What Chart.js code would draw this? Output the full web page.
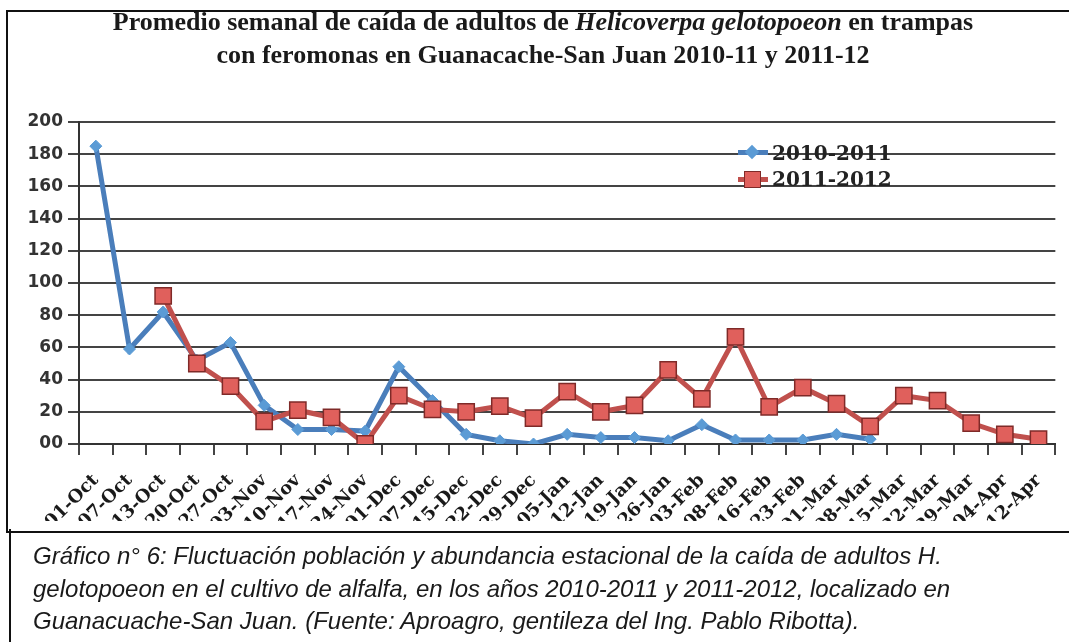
<!DOCTYPE html>
<html>
<head>
<meta charset="utf-8">
<script src="https://cdn.jsdelivr.net/npm/chart.js@4.4.1/dist/chart.umd.min.js"></script>
<style>
  html, body { margin:0; padding:0; background:#fff; }
  #stage { position:relative; width:1069px; height:642px; overflow:hidden; background:#fff; }
  #chartWrap { position:absolute; left:0; top:0; width:1069px; height:521px; overflow:hidden; }
  #frame { position:absolute; left:6px; top:10px; width:1100px; height:519px; border:2px solid #111; pointer-events:none; }
  #capFrame { position:absolute; left:9px; top:529px; width:1100px; height:140px; border-left:2px solid #111; pointer-events:none; }
  #title { position:absolute; left:0; width:1086px; top:5px; text-align:center; font-family:"Liberation Serif", serif; font-weight:bold; font-size:26px; line-height:33px; color:#1a1a1a; }
  #caption { position:absolute; left:33px; top:540px; font-family:"Liberation Sans", Arial, sans-serif; font-style:italic; font-size:24px; line-height:32.5px; color:#1a1a1a; white-space:nowrap; }
  .lg { position:absolute; font-family:"DejaVu Serif", serif; font-weight:bold; font-size:20px; color:#222; line-height:22px; }
  .lgline { position:absolute; height:5px; }
</style>
</head>
<body>
<div id="stage">
  <div id="chartWrap"><canvas id="c" width="1069" height="521"></canvas></div>
  <div id="frame"></div>
  <div id="capFrame"></div>
  <div id="title">Promedio semanal de caída de adultos de <i>Helicoverpa gelotopoeon</i> en trampas<br>con feromonas en Guanacache-San Juan 2010-11 y 2011-12</div>
  <div class="lgline" style="left:738px; top:150px; width:30px; background:#4a7ebb;"></div>
  <div style="position:absolute; left:746px; top:146px; width:12px; height:12px; background:#5b9bd5; transform:rotate(45deg) scale(0.85);"></div>
  <div class="lg" style="left:772px; top:142px;">2010-2011</div>
  <div class="lgline" style="left:738px; top:177px; width:30px; background:#c0504d;"></div>
  <div style="position:absolute; left:744px; top:171px; width:15px; height:15px; background:#e0605c; border:1px solid #7f2a28;"></div>
  <div class="lg" style="left:772px; top:168px;">2011-2012</div>
  <div id="caption">Gráfico n° 6: Fluctuación población y abundancia estacional de la caída de adultos H.<br>gelotopoeon en el cultivo de alfalfa, en los años 2010-2011 y 2011-2012, localizado en<br>Guanacuache-San Juan. (Fuente: Aproagro, gentileza del Ing. Pablo Ribotta).</div>
</div>
<script>
const categories = ["01-Oct","07-Oct","13-Oct","20-Oct","27-Oct","03-Nov","10-Nov","17-Nov","24-Nov","01-Dec","07-Dec","15-Dec","22-Dec","29-Dec","05-Jan","12-Jan","19-Jan","26-Jan","03-Feb","08-Feb","16-Feb","23-Feb","01-Mar","08-Mar","15-Mar","22-Mar","29-Mar","04-Apr","12-Apr"];
const season2010 = [185,59,82,52,63,24,9,9,8,48,27,6,2,0,6,4,4,2,12,2.5,2.5,2.5,6,3,null,null,null,null,null];
const season2011 = [null,null,92,50,36,14,21,16.5,0,30,21.5,20,23.5,16,32.5,20,24,46,28,66.5,23,35,25,11,30,27,13,6,3];
const yTicks = [0,20,40,60,80,100,120,140,160,180,200];
const seriesNames = ["2010-2011","2011-2012"];

new Chart(document.getElementById('c'), {
  type: 'line',
  data: {
    labels: categories,
    datasets: [
      { label: seriesNames[0], data: season2010, borderColor:'#4a7ebb', borderWidth:5, backgroundColor:'#5b9bd5',
        pointStyle:'rectRot', pointRadius:6, pointBorderColor:'#5b9bd5', pointBorderWidth:1, pointBackgroundColor:'#5b9bd5',
        tension:0, spanGaps:false, order:2 },
      { label: seriesNames[1], data: season2011, borderColor:'#c0504d', borderWidth:5, backgroundColor:'#e0605c',
        pointStyle:'rect', pointRadius:11.5, pointBorderColor:'#7f2a28', pointBorderWidth:1.5, pointBackgroundColor:'#e0605c',
        tension:0, spanGaps:false, order:1 }
    ]
  },
  options: {
    responsive:false, animation:false,
    layout:{ padding:{ top:122, right:3, left:0, bottom:0 } },
    plugins:{ legend:{display:false}, title:{display:false}, tooltip:{enabled:false} },
    scales:{
      x:{
        offset:true,
        grid:{ display:true, drawOnChartArea:false, drawTicks:true, tickLength:11, offset:true, color:'#444', lineWidth:2 },
        border:{ display:true, color:'#333', width:2 },
        ticks:{ minRotation:45, maxRotation:45, autoSkip:false, padding:15, color:'#1a1a1a',
                font:{ family:'"DejaVu Serif", serif', weight:'bold', size:18 } },
        afterFit:(s)=>{ s.height = 521 - 444; }
      },
      y:{
        min:0, max:200,
        afterBuildTicks:(s)=>{ s.ticks = yTicks.map(v=>({value:v})); },
        grid:{ color:'#444', lineWidth:2, tickLength:11, drawTicks:true },
        border:{ display:true, color:'#333', width:2 },
        ticks:{ padding:5, color:'#333', callback:(v)=> v===0 ? '00' : String(v),
                font:{ family:'"DejaVu Sans", sans-serif', weight:'bold', size:17 } },
        afterFit:(s)=>{ s.width = 79; }
      }
    }
  }
});
</script>
</body>
</html>
